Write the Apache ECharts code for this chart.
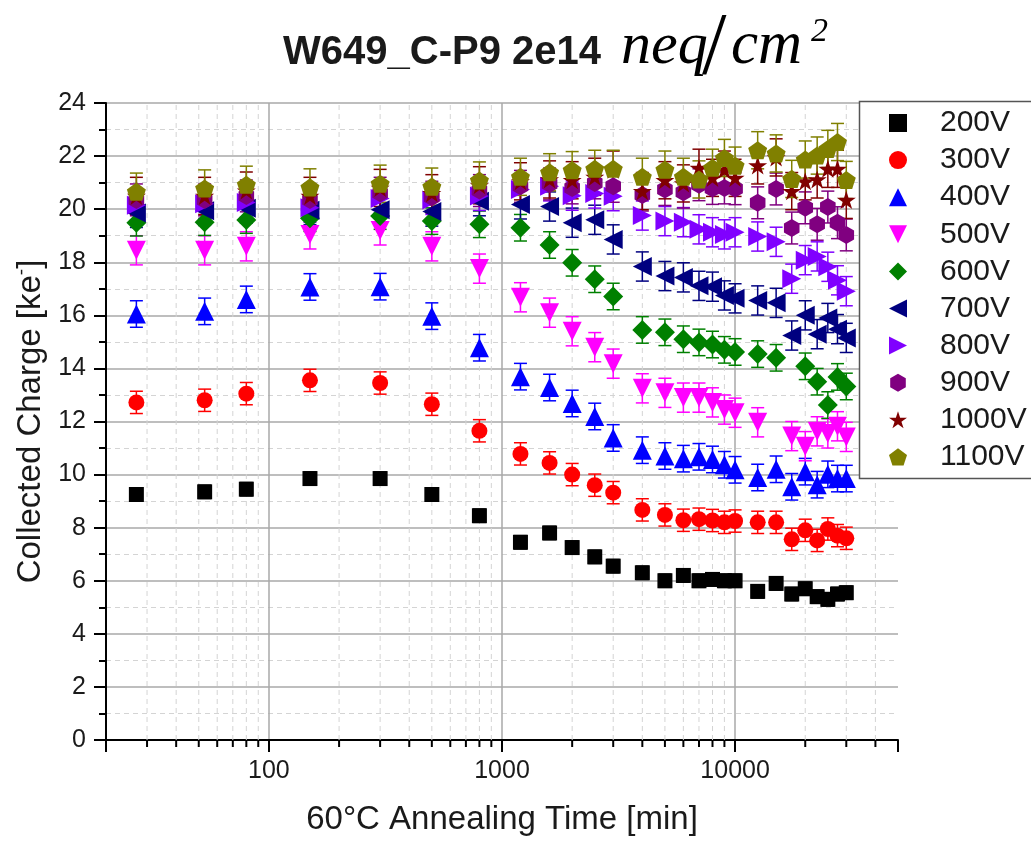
<!DOCTYPE html>
<html>
<head>
<meta charset="utf-8">
<script src="https://cdn.jsdelivr.net/npm/echarts@6.0.0/dist/echarts.min.js"></script>
<style>
html,body{margin:0;padding:0;background:#fff;}
#c{width:1031px;height:841px;}
</style>
</head>
<body>
<div id="c"></div>
<script>
// ---------- data ----------
const times = [27,53,80,150,300,500,800,1200,1600,2000,2500,3000,4000,5000,6000,7000,8000,9000,10000,12500,15000,17500,20000,22500,25000,27500,30000];

const v200  = [9.25,9.35,9.45,9.85,9.85,9.25,8.45, 7.45,7.8,7.25,6.9,6.55,6.3,6.0,6.2,6.0,6.05,6.0,6.0, 5.6,5.9,5.5,5.7,5.4,5.3,5.5,5.55];
const v300  = [12.72,12.8,13.05,13.55,13.45,12.65,11.65, 10.78,10.44,10.0,9.6,9.32,8.67,8.48,8.28,8.32,8.27,8.2,8.25, 8.2,8.2,7.56,7.9,7.52,7.95,7.7,7.6];
const v400  = [16.05,16.15,16.6,17.07,17.08,15.97,14.78, 13.69,13.28,12.68,12.19,11.38,10.92,10.7,10.6,10.67,10.57,10.37,10.18, 9.89,10.2,9.54,10.11,9.62,10.01,9.85,9.85];
const v500  = [18.45,18.45,18.6,19.05,19.2,18.6,17.76, 16.68,16.1,15.4,14.8,14.18,13.25,13.08,12.9,12.9,12.72,12.45,12.33, 11.97,null,11.45,11.07,11.63,11.55,11.82,11.42];
const v600  = [19.49,19.51,19.59,19.66,19.74,19.55,19.43, 19.3,18.65,17.98,17.36,16.71,15.45,15.36,15.1,14.98,14.9,14.7,14.62, 14.54,14.4,null,14.08,13.5,12.62,13.68,13.32];
const v700  = [19.86,19.94,20.03,19.96,19.98,19.91,20.3, 20.18,20.1,19.49,19.6,18.86,17.84,17.48,17.43,17.11,17.08,16.75,16.64, 16.56,16.47,15.24,16.0,15.29,15.9,15.48,15.15];
const v800  = [20.15,20.2,20.25,20.05,20.4,20.35,20.5, 20.74,20.86,20.51,20.59,20.49,19.76,19.55,19.51,19.24,19.13,19.05,19.13, 18.97,18.77,17.38,18.08,18.22,17.83,17.32,16.91];
const v900  = [20.35,20.35,20.5,20.35,20.6,20.45,20.7, 20.86,20.95,20.8,20.99,20.86,20.53,20.74,20.64,20.92,20.78,20.8,20.77, 20.24,20.76,19.29,20.05,19.43,20.08,19.49,19.03];
const v1000 = [20.5,20.5,20.7,20.5,20.8,20.6,20.9, 21.05,21.12,21.09,21.22,21.49,20.68,21.09,20.97,21.56,21.18,21.49,21.18, 21.65,21.95,20.68,21.05,21.12,21.52,21.52,20.35];
const v1100 = [20.66,20.78,20.92,20.82,20.96,20.85,21.08, 21.22,21.39,21.47,21.52,21.52,21.22,21.49,21.22,21.12,21.56,21.93,21.64, 22.22,22.1,21.14,21.87,22.02,22.27,22.53,21.1];

// half-width of error bars for each voltage (ke-)
const errHalf = [0.25,0.42,0.5,0.55,0.5,0.55,0.55,0.6,0.7,0.7];

const seriesNames = ['200V','300V','400V','500V','600V','700V','800V','900V','1000V','1100V'];
const seriesValues = [v200,v300,v400,v500,v600,v700,v800,v900,v1000,v1100];

// axis ticks
const xTickLabels = [100,1000,10000];
const xMinorTicks = [30,40,50,60,70,80,90,200,300,400,500,600,700,800,900,2000,3000,4000,5000,6000,7000,8000,9000,20000,30000,40000];
const xMin = 20, xMax = 50000;
const yMin = 0, yMax = 24, yStep = 2;

// ---------- styles ----------
const TRI_UP = 'path://M1,0 L2,2 L0,2 Z';
const TRI_DOWN = 'path://M0,0 L2,0 L1,2 Z';
const TRI_LEFT = 'path://M0,1 L2,0 L2,2 Z';
const TRI_RIGHT = 'path://M0,0 L2,1 L0,2 Z';
const HEX = 'path://M0,-1 L0.866,-0.5 L0.866,0.5 L0,1 L-0.866,0.5 L-0.866,-0.5 Z';
const STAR = 'path://M0,-1 L0.225,-0.309 L0.951,-0.309 L0.363,0.118 L0.588,0.809 L0,0.382 L-0.588,0.809 L-0.363,0.118 L-0.951,-0.309 L-0.225,-0.309 Z';
const PENT = 'path://M0,-1 L0.951,-0.309 L0.588,0.809 L-0.588,0.809 L-0.951,-0.309 Z';
const styles = [
  {color:'#000000', symbol:'rect', size:15},
  {color:'#ff0000', symbol:'circle', size:16},
  {color:'#0000ff', symbol:TRI_UP, size:19},
  {color:'#ff00ff', symbol:TRI_DOWN, size:19},
  {color:'#008000', symbol:'diamond', size:20},
  {color:'#000080', symbol:TRI_LEFT, size:19},
  {color:'#8000ff', symbol:TRI_RIGHT, size:19},
  {color:'#800080', symbol:HEX, size:18},
  {color:'#800000', symbol:STAR, size:19},
  {color:'#808000', symbol:PENT, size:19}
];

const FONT = '"Liberation Sans", Arial, Helvetica, sans-serif';

// ---------- series ----------
const series = [];
// minor vertical grid + minor ticks on the log axis
series.push({
  type:'custom', name:'minorGrid', z:1, silent:true,
  data: xMinorTicks.map(v => [v]),
  renderItem(params, api){
    const v = api.value(0);
    const b = api.coord([v, yMin]);
    const t = api.coord([v, yMax]);
    return {type:'group', children:[
      {type:'line', shape:{x1:b[0],y1:b[1],x2:t[0],y2:t[1]}, style:{stroke:'#d4d4d4', lineWidth:1, lineDash:[5,4]}},
      {type:'line', shape:{x1:b[0],y1:b[1],x2:b[0],y2:b[1]+7}, style:{stroke:'#000', lineWidth:2}}
    ]};
  }
});

seriesNames.forEach((name, k) => {
  const vals = seriesValues[k];
  const st = styles[k];
  const pts = [];
  times.forEach((t, i) => { if (vals[i] !== null) pts.push([t, vals[i]]); });
  series.push({
    type:'custom', name: name + ' error', silent:true, z:2,
    data: pts.map(p => [p[0], p[1], errHalf[k]]),
    renderItem(params, api){
      const x = api.value(0), y = api.value(1), e = api.value(2);
      const top = api.coord([x, y + e]);
      const bot = api.coord([x, y - e]);
      const cw = 6.5;
      const s = {stroke: st.color, lineWidth:1.5};
      return {type:'group', children:[
        {type:'line', shape:{x1:top[0],y1:top[1],x2:bot[0],y2:bot[1]}, style:s},
        {type:'line', shape:{x1:top[0]-cw,y1:top[1],x2:top[0]+cw,y2:top[1]}, style:s},
        {type:'line', shape:{x1:bot[0]-cw,y1:bot[1],x2:bot[0]+cw,y2:bot[1]}, style:s}
      ]};
    }
  });
  series.push({
    type:'scatter', name: name, z:2,
    symbol: st.symbol, symbolSize: st.size, symbolKeepAspect:true,
    itemStyle:{color: st.color, opacity:1},
    emphasis:{disabled:true},
    data: pts
  });
});

const chart = echarts.init(document.getElementById('c'), null, {renderer:'canvas'});
chart.setOption({
  animation:false,
  backgroundColor:'#ffffff',
  grid:{left:106, right:133, top:103, bottom:100, containLabel:false},
  xAxis:{
    type:'log', logBase:10, min:xMin, max:xMax,
    name:'60°C Annealing Time [min]', nameLocation:'middle', nameGap:63,
    nameTextStyle:{fontFamily:FONT, fontSize:33, color:'#1a1a1a'},
    axisLine:{show:true, onZero:false, lineStyle:{color:'#000', width:2}},
    axisTick:{show:true, length:12, lineStyle:{color:'#000', width:2}},
    axisLabel:{
      fontFamily:FONT, fontSize:25, color:'#1a1a1a', margin:19,
      showMinLabel:true, showMaxLabel:true,
      formatter: v => { const r = xTickLabels.find(t => Math.abs(t - v) / t < 1e-6); return r ? String(r) : ''; }
    },
    splitLine:{show:true, showMinLine:false, showMaxLine:false, lineStyle:{color:'#a8a8a8', width:1.5}},
    minorTick:{show:false}, minorSplitLine:{show:false}
  },
  yAxis:{
    type:'value', min:yMin, max:yMax, interval:yStep,
    name:'Collected Charge [ke{sup|-}]', nameLocation:'middle', nameGap:52,
    nameTextStyle:{fontFamily:FONT, fontSize:33, color:'#1a1a1a',
      rich:{sup:{fontFamily:FONT, fontSize:19, color:'#1a1a1a', padding:[0,0,18,0]}}},
    axisLine:{show:true, lineStyle:{color:'#000', width:2}},
    axisTick:{show:true, length:12, lineStyle:{color:'#000', width:2}},
    minorTick:{show:true, splitNumber:2, length:7, lineStyle:{color:'#000', width:2}},
    axisLabel:{fontFamily:FONT, fontSize:25, color:'#1a1a1a', margin:20},
    splitLine:{show:true, lineStyle:{color:'#a8a8a8', width:1.5}},
    minorSplitLine:{show:true, lineStyle:{color:'#d4d4d4', width:1, type:[5,4]}}
  },
  legend:{
    show:true, orient:'vertical', left:889, top:108, padding:0, z:20,
    data: seriesNames,
    itemWidth:18, itemHeight:18, itemGap:7.1,
    selectedMode:false,
    textStyle:{fontFamily:FONT, fontSize:30, color:'#1a1a1a', lineHeight:30, padding:[0,0,0,28]}
  },
  graphic:[
    {type:'rect', z:10, shape:{x:859.5, y:101.5, width:200, height:377}, style:{fill:'#fff', stroke:'#555', lineWidth:1.5}},
    {type:'text', z:10, x:283, y:53, style:{text:'W649_C-P9 2e14', font:'bold 40px "Liberation Sans"', fill:'#1a1a1a', align:'left', verticalAlign:'middle'}},
    {type:'text', z:10, x:621, y:47, style:{text:'neq', font:'italic 60px "Liberation Serif"', fill:'#000', align:'left', verticalAlign:'middle'}},
    {type:'text', z:10, x:702, y:50, style:{text:'/', font:'88px "Liberation Serif"', fill:'#000', align:'left', verticalAlign:'middle'}},
    {type:'text', z:10, x:731, y:47, style:{text:'cm', font:'italic 61px "Liberation Serif"', fill:'#000', align:'left', verticalAlign:'middle'}},
    {type:'text', z:10, x:811, y:32, style:{text:'2', font:'italic 34px "Liberation Serif"', fill:'#000', align:'left', verticalAlign:'middle'}}
  ],
  series: series
});
</script>
</body>
</html>
